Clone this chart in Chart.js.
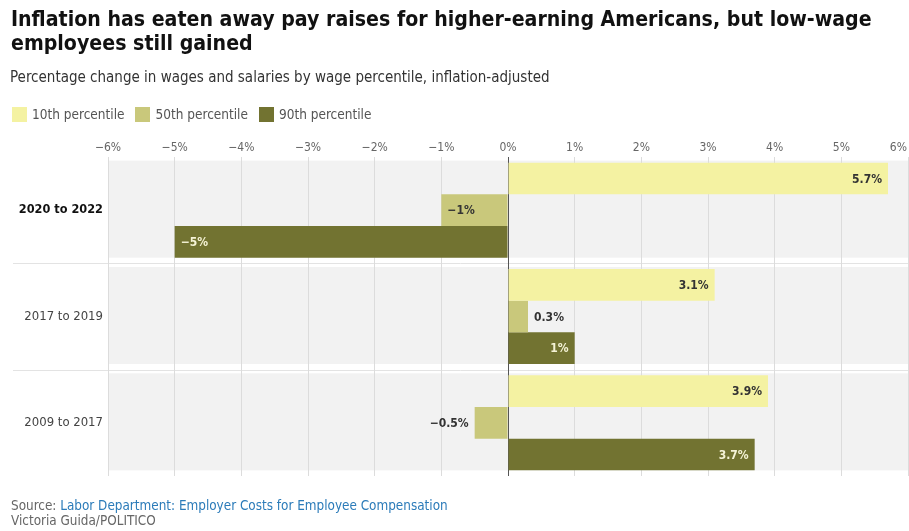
<!DOCTYPE html>
<html>
<head>
<meta charset="utf-8">
<script src="https://cdn.jsdelivr.net/npm/chart.js@4.4.1/dist/chart.umd.min.js"></script>
<style>
  body { margin: 0; background: #fff; }
  #wrap { position: relative; width: 909px; height: 531px; overflow: hidden; font-family: "DejaVu Sans Condensed", "DejaVu Sans", sans-serif; }
  #chart { position: absolute; left: 0; top: 0; }
  .title { position: absolute; left: 11px; top: 7px; font-size: 22px; line-height: 24px; font-weight: bold; color: #111; white-space: nowrap; transform-origin: 0 0; transform: scaleX(0.961); }
  .subtitle { position: absolute; left: 10px; top: 68px; font-size: 15px; color: #333; white-space: nowrap; }
  #legend { position: absolute; left: 12px; top: 106px; display: flex; font-size: 13.5px; color: #555; }
  #legend span.item { display: flex; align-items: center; margin-right: 11px; }
  #legend span.sw { width: 15px; height: 15px; margin-right: 5px; display: inline-block; }
  .footer { position: absolute; left: 11px; top: 498px; font-size: 13.4px; line-height: 15px; color: #666; white-space: nowrap; }
  .footer .link { color: #2b7bb9; }
</style>
</head>
<body>
<div id="wrap">
  <canvas id="chart" width="909" height="531"></canvas>
  <div class="title">Inflation has eaten away pay raises for higher-earning Americans, but low-wage<br>employees still gained</div>
  <div class="subtitle">Percentage change in wages and salaries by wage percentile, inflation-adjusted</div>
  <div id="legend"></div>
  <div class="footer">Source: <span class="link">Labor Department: Employer Costs for Employee Compensation</span><br>Victoria Guida/POLITICO</div>
</div>
<script>
// periods, top to bottom
const categories = ['2020 to 2022', '2017 to 2019', '2009 to 2017'];
const seriesNames = ['10th percentile', '50th percentile', '90th percentile'];
const seriesColors = ['#f4f2a2', '#c9c87b', '#727331'];
// inflation-adjusted wage change, percent
const p10 = [5.7, 3.1, 3.9];
const p50 = [-1, 0.3, -0.5];
const p90 = [-5, 1, 3.7];
const xTicks = [-6, -5, -4, -3, -2, -1, 0, 1, 2, 3, 4, 5, 6];

const fmt = v => (v < 0 ? '\u2212' : '') + Math.abs(v) + '%';
const labelFont = 'bold 12px "DejaVu Sans Condensed", "DejaVu Sans", sans-serif';

// html legend
const legendEl = document.getElementById('legend');
seriesNames.forEach((name, i) => {
    const item = document.createElement('span');
    item.className = 'item';
    item.innerHTML = '<span class="sw" style="background:' + seriesColors[i] + '"></span>' + name;
    legendEl.appendChild(item);
});

// grey panel behind each period + divider line between them
const panels = {
    id: 'panels',
    beforeDraw(chart) {
        const { ctx, chartArea, scales: { y } } = chart;
        const cat = y.height / categories.length;
        const group = cat * chart.options.datasets.bar.categoryPercentage;
        ctx.save();
        categories.forEach((c, i) => {
            const cy = y.getPixelForValue(i);
            ctx.fillStyle = '#f2f2f2';
            ctx.fillRect(chartArea.left, cy - group / 2 - 2, chartArea.right - chartArea.left, group + 2);
            if (i > 0) {
                const ly = Math.round(cy - cat / 2) + 0.5;
                ctx.strokeStyle = '#e3e3e3';
                ctx.lineWidth = 1;
                ctx.beginPath();
                ctx.moveTo(13, ly);
                ctx.lineTo(chartArea.right, ly);
                ctx.stroke();
            }
        });
        ctx.restore();
    }
};

// percent labels across the top
const topTicks = {
    id: 'topTicks',
    afterDraw(chart) {
        const { ctx, chartArea, scales: { x } } = chart;
        ctx.save();
        ctx.font = '12px "DejaVu Sans Condensed", "DejaVu Sans", sans-serif';
        ctx.fillStyle = '#666';
        ctx.textBaseline = 'middle';
        xTicks.forEach((v, i) => {
            const last = i === xTicks.length - 1;
            ctx.textAlign = last ? 'right' : 'center';
            ctx.fillText(fmt(v), x.getPixelForValue(v) - (last ? 1 : 0), chartArea.top - 9);
        });
        ctx.restore();
    }
};

// value labels: inside the bar end when they fit, outside otherwise
const valueLabels = {
    id: 'valueLabels',
    afterDatasetsDraw(chart) {
        const { ctx } = chart;
        ctx.save();
        ctx.font = labelFont;
        ctx.textBaseline = 'middle';
        chart.data.datasets.forEach((ds, di) => {
            chart.getDatasetMeta(di).data.forEach((bar, i) => {
                const v = ds.data[i];
                const text = fmt(v);
                const tw = ctx.measureText(text).width;
                const w = Math.abs(bar.x - bar.base);
                const inside = tw + 12 <= w;
                const neg = v < 0;
                if (inside) {
                    ctx.fillStyle = di === 2 ? '#f5f3d6' : '#333';
                    ctx.textAlign = neg ? 'left' : 'right';
                    ctx.fillText(text, bar.x + (neg ? 6 : -6), bar.y + 1);
                } else {
                    ctx.fillStyle = '#333';
                    ctx.textAlign = neg ? 'right' : 'left';
                    ctx.fillText(text, bar.x + (neg ? -6 : 6), bar.y + 1);
                }
            });
        });
        ctx.restore();
    }
};

const ctx = document.getElementById('chart').getContext('2d');
new Chart(ctx, {
    type: 'bar',
    data: {
        labels: categories,
        datasets: [
            { label: seriesNames[0], data: p10, backgroundColor: seriesColors[0] },
            { label: seriesNames[1], data: p50, backgroundColor: seriesColors[1] },
            { label: seriesNames[2], data: p90, backgroundColor: seriesColors[2] }
        ]
    },
    options: {
        indexAxis: 'y',
        responsive: false,
        animation: false,
        devicePixelRatio: 1,
        datasets: {
            bar: { categoryPercentage: 0.894, barPercentage: 1.0, borderWidth: 0 }
        },
        layout: { padding: { top: 157, bottom: 55, left: 0, right: 1 } },
        plugins: {
            legend: { display: false },
            tooltip: { enabled: false }
        },
        scales: {
            x: {
                position: 'top',
                min: -6,
                max: 6,
                afterBuildTicks: s => { s.ticks = xTicks.map(v => ({ value: v })); },
                afterFit: s => { s.height = 0; s.paddingLeft = 0; s.paddingRight = 0; },
                ticks: { display: false },
                border: { display: false },
                grid: {
                    drawTicks: false,
                    color: c => c.tick && c.tick.value === 0 ? '#555' : '#dcdcdc',
                    lineWidth: 1
                }
            },
            y: {
                afterFit: s => { s.width = 108; },
                border: { display: false },
                grid: { display: false, drawTicks: false },
                ticks: {
                    padding: 5,
                    color: c => c.index === 0 ? '#111' : '#444',
                    font: c => ({
                        family: '"DejaVu Sans Condensed", "DejaVu Sans", sans-serif',
                        size: c.index === 0 ? 12.6 : 13,
                        weight: c.index === 0 ? 'bold' : 'normal'
                    })
                }
            }
        }
    },
    plugins: [panels, topTicks, valueLabels]
});
</script>
</body>
</html>
